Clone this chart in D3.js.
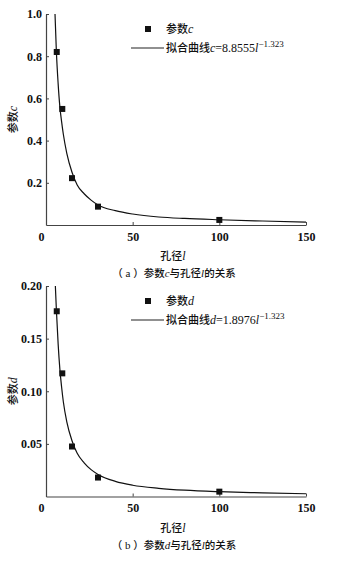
<!DOCTYPE html>
<html><head><meta charset="utf-8">
<script src="https://cdn.jsdelivr.net/npm/d3@7"></script>
<style>
html,body{margin:0;padding:0;background:#fff;}
svg{display:block;}
</style></head>
<body>
<svg id="chart" width="355" height="562"></svg>
<script>
// ---- data ----
const lValues = [6.2, 9.4, 15, 30, 100];
const cValues = [0.82, 0.55, 0.222, 0.087, 0.024];
const dValues = [0.176, 0.117, 0.0475, 0.018, 0.0046];

const fitLc = [5.2, 6, 7, 8, 9, 10, 12, 15, 18, 22, 26, 30, 40, 50, 65, 80, 100, 125, 150];
const fitC  = [1.0, 0.82, 0.67, 0.56, 0.49, 0.43, 0.34, 0.25, 0.19, 0.148, 0.118, 0.095, 0.068, 0.052, 0.038, 0.031, 0.025, 0.019, 0.014];
const fitLd = [5.4, 6, 7, 8, 9, 10, 12, 15, 18, 22, 26, 30, 40, 50, 65, 80, 100, 125, 150];
const fitD  = [0.2, 0.177, 0.145, 0.121, 0.104, 0.090, 0.071, 0.053, 0.041, 0.032, 0.0255, 0.021, 0.0144, 0.0107, 0.0078, 0.006, 0.0046, 0.0035, 0.0026];

const xTicks = [0, 50, 100, 150];
const cTicks = [0.2, 0.4, 0.6, 0.8, 1.0];
const dTicks = [0.05, 0.10, 0.15, 0.20];

const svg = d3.select("#chart");
const numFont = "'Liberation Serif','Times New Roman',serif";
const cjkFont = "'Noto Sans CJK SC','Liberation Serif',serif";
const cjkWeight = 500;

function drawPanel(o) {
  const x = d3.scaleLinear().domain([0, 150]).range([46, 306]);
  const y = d3.scaleLinear().domain(o.yDomain).range([o.y0, o.y1]);
  const g = svg.append("g");

  // axes
  const xa = g.append("g").attr("transform", `translate(0,${o.y0})`)
    .call(d3.axisBottom(x).tickValues(xTicks).tickSize(-3).tickSizeOuter(0).tickPadding(7).tickFormat(d3.format("d")));
  const ya = g.append("g").attr("transform", `translate(46,0)`)
    .call(d3.axisLeft(y).tickValues(o.yTicks).tickSize(-3).tickSizeOuter(0).tickPadding(4).tickFormat(d3.format(o.fmt)));
  [xa, ya].forEach(a => {
    a.select(".domain").attr("stroke", "#444").attr("stroke-width", 1.2);
    a.selectAll(".tick line").attr("stroke", "#444").attr("stroke-width", 1);
    a.selectAll(".tick text").attr("font-family", numFont).attr("font-weight", "bold")
      .attr("font-size", 12).attr("fill", "#111");
  });
  xa.selectAll(".tick").filter(d => d === 0).select("text").attr("x", -5);
  xa.selectAll(".tick").filter(d => d === 0).select("line").remove();

  // fit curve
  const line = d3.line().x(d => x(d[0])).y(d => y(d[1])).curve(d3.curveMonotoneX);
  g.append("path").datum(o.fitL.map((l, i) => [l, o.fitV[i]]))
    .attr("d", line).attr("fill", "none").attr("stroke", "#111").attr("stroke-width", 1.2);

  // points
  g.selectAll("rect.pt").data(lValues.map((l, i) => [l, o.values[i]])).enter().append("rect")
    .attr("class", "pt")
    .attr("x", d => x(d[0]) - 3).attr("y", d => y(d[1]) - 3)
    .attr("width", 6).attr("height", 6).attr("fill", "#111");

  // legend
  g.append("rect").attr("x", 145).attr("y", o.legY1 - 3).attr("width", 6).attr("height", 6).attr("fill", "#111");
  const t1 = g.append("text").attr("x", 166).attr("y", o.legY1 + 4).attr("font-size", 11).attr("fill", "#111");
  t1.append("tspan").attr("font-family", cjkFont).attr("font-weight", cjkWeight).text("参数");
  t1.append("tspan").attr("font-family", numFont).attr("font-style", "italic").attr("font-size", 12).text(o.sym);

  g.append("line").attr("x1", 131).attr("x2", 164).attr("y1", o.legY2).attr("y2", o.legY2)
    .attr("stroke", "#222").attr("stroke-width", 1.2);
  const t2 = g.append("text").attr("x", 166).attr("y", o.legY2 + 4).attr("font-size", 11).attr("fill", "#111");
  t2.append("tspan").attr("font-family", cjkFont).attr("font-weight", cjkWeight).text("拟合曲线");
  t2.append("tspan").attr("font-family", numFont).attr("font-style", "italic").attr("font-size", 12).text(o.sym);
  t2.append("tspan").attr("font-family", numFont).attr("font-size", 12).text("=" + o.coef);
  t2.append("tspan").attr("font-family", numFont).attr("font-style", "italic").attr("font-size", 12).text("l");
  t2.append("tspan").attr("font-family", numFont).attr("font-size", 9).attr("dy", -5).text("−1.323");

  // y title
  const yt = g.append("text").attr("transform", `translate(17,${(o.y0 + o.y1) / 2}) rotate(-90)`)
    .attr("text-anchor", "middle").attr("font-size", 11).attr("fill", "#111");
  yt.append("tspan").attr("font-family", cjkFont).attr("font-weight", cjkWeight).text("参数");
  yt.append("tspan").attr("font-family", numFont).attr("font-style", "italic").attr("font-size", 12).text(o.sym);

  // x title
  const xt = g.append("text").attr("x", 173).attr("y", o.y0 + 35).attr("text-anchor", "middle")
    .attr("font-size", 11).attr("fill", "#111");
  xt.append("tspan").attr("font-family", cjkFont).attr("font-weight", cjkWeight).text("孔径");
  xt.append("tspan").attr("font-family", numFont).attr("font-style", "italic").attr("font-size", 12).text("l");

  // caption
  const cp = g.append("text").attr("x", 174).attr("y", o.y0 + 52).attr("text-anchor", "middle")
    .attr("font-size", 10.5).attr("fill", "#111");
  cp.append("tspan").attr("font-family", cjkFont).attr("font-weight", cjkWeight).text("（");
  cp.append("tspan").attr("font-family", numFont).attr("font-size", 11).text(" " + o.tag + " ");
  cp.append("tspan").attr("font-family", cjkFont).attr("font-weight", cjkWeight).text("）参数");
  cp.append("tspan").attr("font-family", numFont).attr("font-style", "italic").attr("font-size", 11).text(o.sym);
  cp.append("tspan").attr("font-family", cjkFont).attr("font-weight", cjkWeight).text("与孔径");
  cp.append("tspan").attr("font-family", numFont).attr("font-style", "italic").attr("font-size", 11).text("l");
  cp.append("tspan").attr("font-family", cjkFont).attr("font-weight", cjkWeight).text("的关系");
}

drawPanel({ yDomain: [0, 1], y0: 225, y1: 14, yTicks: cTicks, fmt: ".1f", values: cValues,
  fitL: fitLc, fitV: fitC, sym: "c", coef: "8.8555", tag: "a", legY1: 29, legY2: 48 });
drawPanel({ yDomain: [0, 0.2], y0: 496.5, y1: 286, yTicks: dTicks, fmt: ".2f", values: dValues,
  fitL: fitLd, fitV: fitD, sym: "d", coef: "1.8976", tag: "b", legY1: 301, legY2: 320 });
</script>
</body></html>
